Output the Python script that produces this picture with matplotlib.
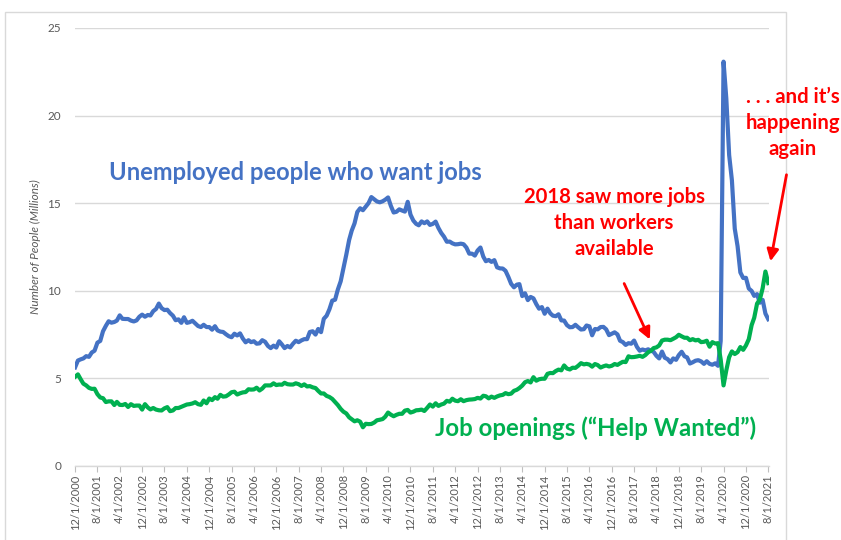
import matplotlib
matplotlib.use("Agg")
import matplotlib.pyplot as plt
from matplotlib.patches import Rectangle, FancyArrowPatch
import pandas as pd

plt.rcParams['font.family'] = ['Lato', 'DejaVu Sans']

# Monthly values, Dec 2000 .. Aug 2021 (millions)
unemployed = [
    5.63,
    6.02, 6.09, 6.14, 6.27, 6.23, 6.48, 6.58, 7.04, 7.14, 7.69, 8.00, 8.26,
    8.18, 8.22, 8.30, 8.60, 8.40, 8.39, 8.39, 8.30, 8.25, 8.31, 8.52, 8.64,
    8.52, 8.62, 8.59, 8.84, 8.96, 9.27, 9.01, 8.90, 8.92, 8.73, 8.58, 8.32,
    8.37, 8.17, 8.49, 8.17, 8.21, 8.29, 8.14, 7.99, 7.93, 8.06, 7.93, 7.93,
    7.78, 7.98, 7.74, 7.67, 7.65, 7.52, 7.41, 7.35, 7.55, 7.45, 7.57, 7.28,
    7.06, 7.18, 7.07, 7.12, 6.98, 7.00, 7.18, 7.09, 6.85, 6.73, 6.87, 6.76,
    7.12, 6.93, 6.73, 6.85, 6.77, 6.98, 7.15, 7.07, 7.17, 7.24, 7.24, 7.65,
    7.69, 7.50, 7.82, 7.64, 8.40, 8.58, 8.94, 9.44, 9.49, 10.07, 10.54, 11.29,
    12.06, 12.90, 13.43, 13.85, 14.50, 14.71, 14.60, 14.81, 15.01, 15.35, 15.22, 15.10,
    15.05, 15.11, 15.20, 15.33, 14.85, 14.47, 14.51, 14.65, 14.58, 14.52, 15.08, 14.35,
    14.01, 13.82, 13.74, 13.96, 13.86, 13.96, 13.76, 13.82, 13.95, 13.59, 13.30, 13.09,
    12.80, 12.81, 12.71, 12.65, 12.66, 12.69, 12.66, 12.47, 12.12, 12.12, 12.01, 12.30,
    12.47, 11.95, 11.69, 11.76, 11.65, 11.75, 11.34, 11.28, 11.27, 11.14, 10.79, 10.40,
    10.20, 10.35, 10.38, 9.70, 9.86, 9.47, 9.65, 9.57, 9.24, 8.98, 9.07, 8.69,
    8.98, 8.71, 8.58, 8.55, 8.66, 8.31, 8.30, 8.04, 7.92, 7.93, 8.06, 7.92,
    7.79, 7.81, 8.02, 7.97, 7.46, 7.82, 7.80, 7.93, 7.94, 7.80, 7.47, 7.55,
    7.63, 7.51, 7.15, 7.07, 6.91, 7.01, 6.98, 7.16, 6.80, 6.58, 6.65, 6.60,
    6.66, 6.58, 6.52, 6.29, 6.14, 6.53, 6.18, 6.10, 5.91, 6.14, 6.06, 6.33,
    6.52, 6.26, 6.20, 5.85, 5.92, 6.01, 6.04, 5.97, 5.83, 5.98, 5.83, 5.78,
    5.86, 5.72, 7.14, 23.08, 20.99, 17.75, 16.31, 13.55, 12.54, 11.05, 10.73, 10.74,
    10.13, 9.99, 9.71, 9.81, 9.32, 9.48, 8.70, 8.38,
]

openings = [
    5.09,
    5.23, 4.94, 4.70, 4.60, 4.46, 4.40, 4.41, 4.10, 3.91, 3.87, 3.65, 3.69,
    3.69, 3.48, 3.66, 3.49, 3.48, 3.54, 3.37, 3.53, 3.43, 3.45, 3.45, 3.22,
    3.53, 3.34, 3.23, 3.31, 3.22, 3.18, 3.17, 3.29, 3.36, 3.13, 3.17, 3.31,
    3.31, 3.38, 3.44, 3.51, 3.53, 3.57, 3.64, 3.53, 3.49, 3.74, 3.58, 3.85,
    3.76, 3.93, 3.84, 4.06, 3.96, 3.98, 4.08, 4.21, 4.24, 4.08, 4.15, 4.20,
    4.22, 4.38, 4.36, 4.37, 4.47, 4.31, 4.42, 4.60, 4.60, 4.60, 4.72, 4.62,
    4.65, 4.64, 4.75, 4.67, 4.65, 4.65, 4.72, 4.67, 4.57, 4.66, 4.54, 4.56,
    4.49, 4.45, 4.29, 4.14, 4.14, 4.00, 3.94, 3.83, 3.65, 3.48, 3.26, 3.10,
    3.00, 2.78, 2.67, 2.55, 2.61, 2.53, 2.21, 2.41, 2.39, 2.40, 2.48, 2.61,
    2.64, 2.68, 2.81, 3.05, 2.93, 2.84, 2.92, 2.98, 2.98, 3.16, 3.20, 3.05,
    3.10, 3.18, 3.19, 3.22, 3.14, 3.32, 3.51, 3.39, 3.58, 3.43, 3.51, 3.56,
    3.72, 3.67, 3.84, 3.73, 3.70, 3.81, 3.70, 3.76, 3.79, 3.80, 3.82, 3.89,
    3.85, 4.01, 3.98, 3.86, 3.96, 3.89, 3.97, 4.03, 4.06, 4.16, 4.10, 4.13,
    4.29, 4.35, 4.45, 4.59, 4.78, 4.85, 4.77, 5.07, 4.87, 4.95, 4.98, 4.98,
    5.26, 5.31, 5.30, 5.42, 5.50, 5.46, 5.74, 5.56, 5.51, 5.61, 5.60, 5.72,
    5.87, 5.80, 5.83, 5.79, 5.67, 5.82, 5.76, 5.62, 5.69, 5.74, 5.68, 5.72,
    5.82, 5.77, 5.86, 5.95, 5.93, 6.26, 6.21, 6.22, 6.25, 6.29, 6.23, 6.33,
    6.49, 6.58, 6.73, 6.77, 6.88, 7.16, 7.21, 7.21, 7.18, 7.26, 7.35, 7.49,
    7.40, 7.32, 7.32, 7.18, 7.24, 7.17, 7.20, 7.07, 7.09, 7.15, 6.81, 7.07,
    6.99, 7.01, 6.08, 4.60, 5.46, 6.21, 6.54, 6.39, 6.50, 6.79, 6.63, 6.88,
    7.24, 8.04, 8.46, 9.27, 9.50, 10.15, 11.10, 10.44,
]

dates = pd.date_range("2000-12-01", periods=len(unemployed), freq="MS")
tick_labels = ["12/1/2000", "8/1/2001", "4/1/2002", "12/1/2002", "8/1/2003",
               "4/1/2004", "12/1/2004", "8/1/2005", "4/1/2006", "12/1/2006",
               "8/1/2007", "4/1/2008", "12/1/2008", "8/1/2009", "4/1/2010",
               "12/1/2010", "8/1/2011", "4/1/2012", "12/1/2012", "8/1/2013",
               "4/1/2014", "12/1/2014", "8/1/2015", "4/1/2016", "12/1/2016",
               "8/1/2017", "4/1/2018", "12/1/2018", "8/1/2019", "4/1/2020",
               "12/1/2020", "8/1/2021"]
tick_dates = pd.to_datetime(tick_labels, format="%m/%d/%Y")
y_ticks = [0, 5, 10, 15, 20, 25]

BLUE = "#4472C4"
GREEN = "#00B050"
RED = "#FF0000"
GRAY = "#595959"

W, H = 841, 540
fig = plt.figure(figsize=(W / 100, H / 100), dpi=100)
fig.patch.set_facecolor("white")

# chart border
fig.add_artist(Rectangle((5 / W, -0.05), (786 - 5) / W, 1.05 - 12 / H,
                         transform=fig.transFigure, fill=False,
                         edgecolor="#d9d9d9", lw=1.0))

left, right, top, bottom = 75, 769, 28, 466
ax = fig.add_axes([left / W, (H - bottom) / H, (right - left) / W, (bottom - top) / H])
ax.set_facecolor("none")

ax.plot(dates, unemployed, color=BLUE, lw=3.0, solid_joinstyle="round", zorder=3)
ax.plot(dates, openings, color=GREEN, lw=3.0, solid_joinstyle="round", zorder=3)

ax.set_ylim(0, 25)
ax.set_xlim(dates[0] - pd.Timedelta(days=1), dates[-1] + pd.Timedelta(days=8))
ax.set_yticks(y_ticks)
ax.set_yticklabels([str(v) for v in y_ticks], fontsize=8.5, color=GRAY)
ax.tick_params(axis="y", length=0, pad=10)
ax.grid(axis="y", color="#d9d9d9", lw=1.0)
ax.set_axisbelow(True)

ax.set_xticks(tick_dates)
ax.set_xticklabels(tick_labels, rotation=90, fontsize=8, color=GRAY, va="top", ha="center")
ax.tick_params(axis="x", length=4, width=0.8, color="#bfbfbf", pad=2)

for s in ["top", "right", "left"]:
    ax.spines[s].set_visible(False)
ax.spines["bottom"].set_color("#d9d9d9")
ax.spines["bottom"].set_linewidth(1.0)

fig.text(35 / W, (H - 247) / H, "Number of People (Millions)", rotation=90,
         fontsize=8.5, color=GRAY, style="italic", ha="center", va="center")


def fxy(px, py):
    return (px / W, (H - py) / H)


fig.text(*fxy(295, 172), "Unemployed people who want jobs", color=BLUE,
         fontsize=17.1, fontweight="bold", ha="center", va="center")
fig.text(*fxy(596, 428), "Job openings (\u201cHelp Wanted\u201d)", color=GREEN,
         fontsize=17.3, fontweight="bold", ha="center", va="center")
fig.text(*fxy(614, 223), "2018 saw more jobs\nthan workers\navailable", color=RED,
         fontsize=14.6, fontweight="bold", ha="center", va="center", linespacing=1.38)
fig.text(*fxy(793, 123), ". . . and it\u2019s\nhappening\nagain", color=RED,
         fontsize=14.6, fontweight="bold", ha="center", va="center", linespacing=1.38)

fig.add_artist(FancyArrowPatch(
    fxy(623, 281), fxy(651, 342), transform=fig.transFigure,
    arrowstyle="-|>,head_length=7,head_width=3.5", color=RED, lw=2.0))
fig.add_artist(FancyArrowPatch(
    fxy(787, 172), fxy(770, 264), transform=fig.transFigure,
    arrowstyle="-|>,head_length=7,head_width=3.5", color=RED, lw=2.0))

fig.savefig("out.png", dpi=100, facecolor="white")
